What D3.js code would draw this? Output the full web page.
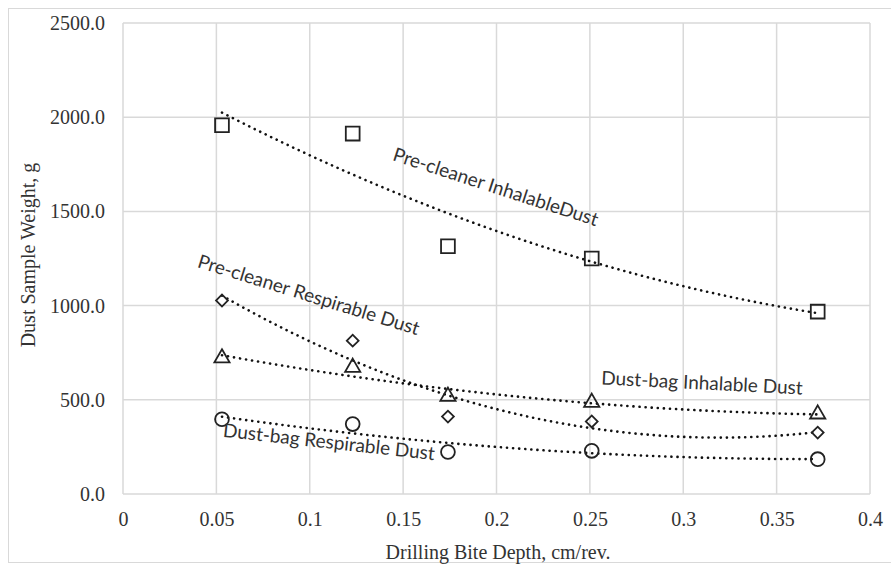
<!DOCTYPE html>
<html>
<head>
<meta charset="utf-8">
<script src="https://cdn.jsdelivr.net/npm/d3@7"></script>
<style>
  body { margin: 0; background: #fff; }
  svg { display: block; }
</style>
</head>
<body>
<svg id="chart" width="891" height="567"></svg>
<script>
// drilling bite depth (cm/rev.) for every sample
const depth = [0.053, 0.123, 0.174, 0.251, 0.372];

// dust sample weights, g
const preInhalable = [1957, 1913, 1315, 1250, 968];
const preRespirable = [1027, 814, 411, 385, 326];
const bagInhalable = [722, 672, 518, 486, 424];
const bagRespirable = [397, 371, 223, 229, 185];

const xTicks = [0, 0.05, 0.1, 0.15, 0.2, 0.25, 0.3, 0.35, 0.4];
const yTicks = [0, 500, 1000, 1500, 2000, 2500];

const series = [
    {name: "Pre-cleaner InhalableDust", values: preInhalable, symbol: d3.symbolSquare, size: 190, rot: 0},
    {name: "Pre-cleaner Respirable Dust", values: preRespirable, symbol: d3.symbolSquare, size: 70, rot: 45},
    {name: "Dust-bag Inhalable Dust", values: bagInhalable, symbol: d3.symbolTriangle, size: 100, rot: 0},
    {name: "Dust-bag Respirable Dust", values: bagRespirable, symbol: d3.symbolCircle, size: 150, rot: 0}
];

// label placement: [cx, cy, angle]
const labelPos = [
    [496, 186, 18],
    [309, 294, 17.2],
    [702, 382, 2.9],
    [329, 441, 6.3]
];

let svg = d3.select("#chart");

svg.append("rect")
    .attr("x", 8.5).attr("y", 8.5)
    .attr("width", 900).attr("height", 554)
    .attr("fill", "none")
    .attr("stroke", "#d9d9d9");

const x = d3.scaleLinear().domain([0, 0.4]).range([123, 870]);
const y = d3.scaleLinear().domain([0, 2500]).range([494, 23]);

// grid
svg.append("g").selectAll("line")
    .data(xTicks).enter().append("line")
    .attr("x1", d => x(d)).attr("x2", d => x(d))
    .attr("y1", y(0)).attr("y2", y(2500))
    .attr("stroke", "#d9d9d9").attr("stroke-width", 1.5);
svg.append("g").selectAll("line")
    .data(yTicks).enter().append("line")
    .attr("x1", x(0)).attr("x2", x(0.4))
    .attr("y1", d => y(d)).attr("y2", d => y(d))
    .attr("stroke", "#d9d9d9").attr("stroke-width", 1.5);

// axes (labels only, lines come from the grid)
let xAxis = svg.append("g")
    .attr("transform", `translate(0,${y(0)})`)
    .call(d3.axisBottom(x).tickValues(xTicks).tickSize(0).tickPadding(18)
        .tickFormat(d => d === 0 ? "0" : String(d)));
let yAxis = svg.append("g")
    .attr("transform", `translate(${x(0)},0)`)
    .call(d3.axisLeft(y).tickValues(yTicks).tickSize(0).tickPadding(18)
        .tickFormat(d3.format(".1f")));
[xAxis, yAxis].forEach(a => {
    a.select(".domain").remove();
    a.attr("font-size", null).attr("font-family", null);
    a.selectAll("text")
        .attr("font-family", "Liberation Serif, serif")
        .attr("font-size", 20)
        .attr("fill", "#333");
});

svg.append("text")
    .attr("x", 498).attr("y", 559)
    .attr("text-anchor", "middle")
    .attr("font-family", "Liberation Serif, serif")
    .attr("font-size", 20)
    .attr("fill", "#333")
    .text("Drilling Bite Depth, cm/rev.");
svg.append("text")
    .attr("transform", "translate(35,255) rotate(-90)")
    .attr("text-anchor", "middle")
    .attr("font-family", "Liberation Serif, serif")
    .attr("font-size", 20)
    .attr("fill", "#333")
    .text("Dust Sample Weight, g");

// least squares quadratic fit, like the spreadsheet trendline
function quadFit(xs, ys) {
    let s = [0, 0, 0, 0, 0], t = [0, 0, 0];
    for (let i = 0; i < xs.length; i++) {
        let p = 1;
        for (let k = 0; k < 5; k++) { s[k] += p; if (k < 3) t[k] += p * ys[i]; p *= xs[i]; }
    }
    let m = [[s[0], s[1], s[2], t[0]], [s[1], s[2], s[3], t[1]], [s[2], s[3], s[4], t[2]]];
    for (let c = 0; c < 3; c++) {
        for (let r = c + 1; r < 3; r++) {
            let f = m[r][c] / m[c][c];
            for (let k = c; k < 4; k++) m[r][k] -= f * m[c][k];
        }
    }
    let coef = [0, 0, 0];
    for (let r = 2; r >= 0; r--) {
        let v = m[r][3];
        for (let k = r + 1; k < 3; k++) v -= m[r][k] * coef[k];
        coef[r] = v / m[r][r];
    }
    return xv => coef[0] + coef[1] * xv + coef[2] * xv * xv;
}

const line = d3.line().x(d => x(d[0])).y(d => y(d[1]));

series.forEach((s, i) => {
    const f = quadFit(depth, s.values);
    const xs = d3.range(0, 101).map(k => depth[0] + (depth[depth.length - 1] - depth[0]) * k / 100);
    svg.append("path")
        .datum(xs.map(v => [v, f(v)]))
        .attr("d", line)
        .attr("fill", "none")
        .attr("stroke", "#111")
        .attr("stroke-width", 2.6)
        .attr("stroke-linecap", "round")
        .attr("stroke-dasharray", "0.1 6");

    svg.append("g").selectAll("path")
        .data(s.values).enter().append("path")
        .attr("transform", (d, j) => `translate(${x(depth[j])},${y(d)}) rotate(${s.rot})`)
        .attr("d", d3.symbol().type(s.symbol).size(s.size))
        .attr("fill", "none")
        .attr("stroke", "#222")
        .attr("stroke-width", 1.8);

    const p = labelPos[i];
    svg.append("text")
        .attr("transform", `translate(${p[0]},${p[1]}) rotate(${p[2]})`)
        .attr("text-anchor", "middle")
        .attr("dominant-baseline", "central")
        .attr("font-family", "Lato, sans-serif")
        .attr("font-size", 19)
        .attr("fill", "#333")
        .text(s.name);
});
</script>
</body>
</html>
